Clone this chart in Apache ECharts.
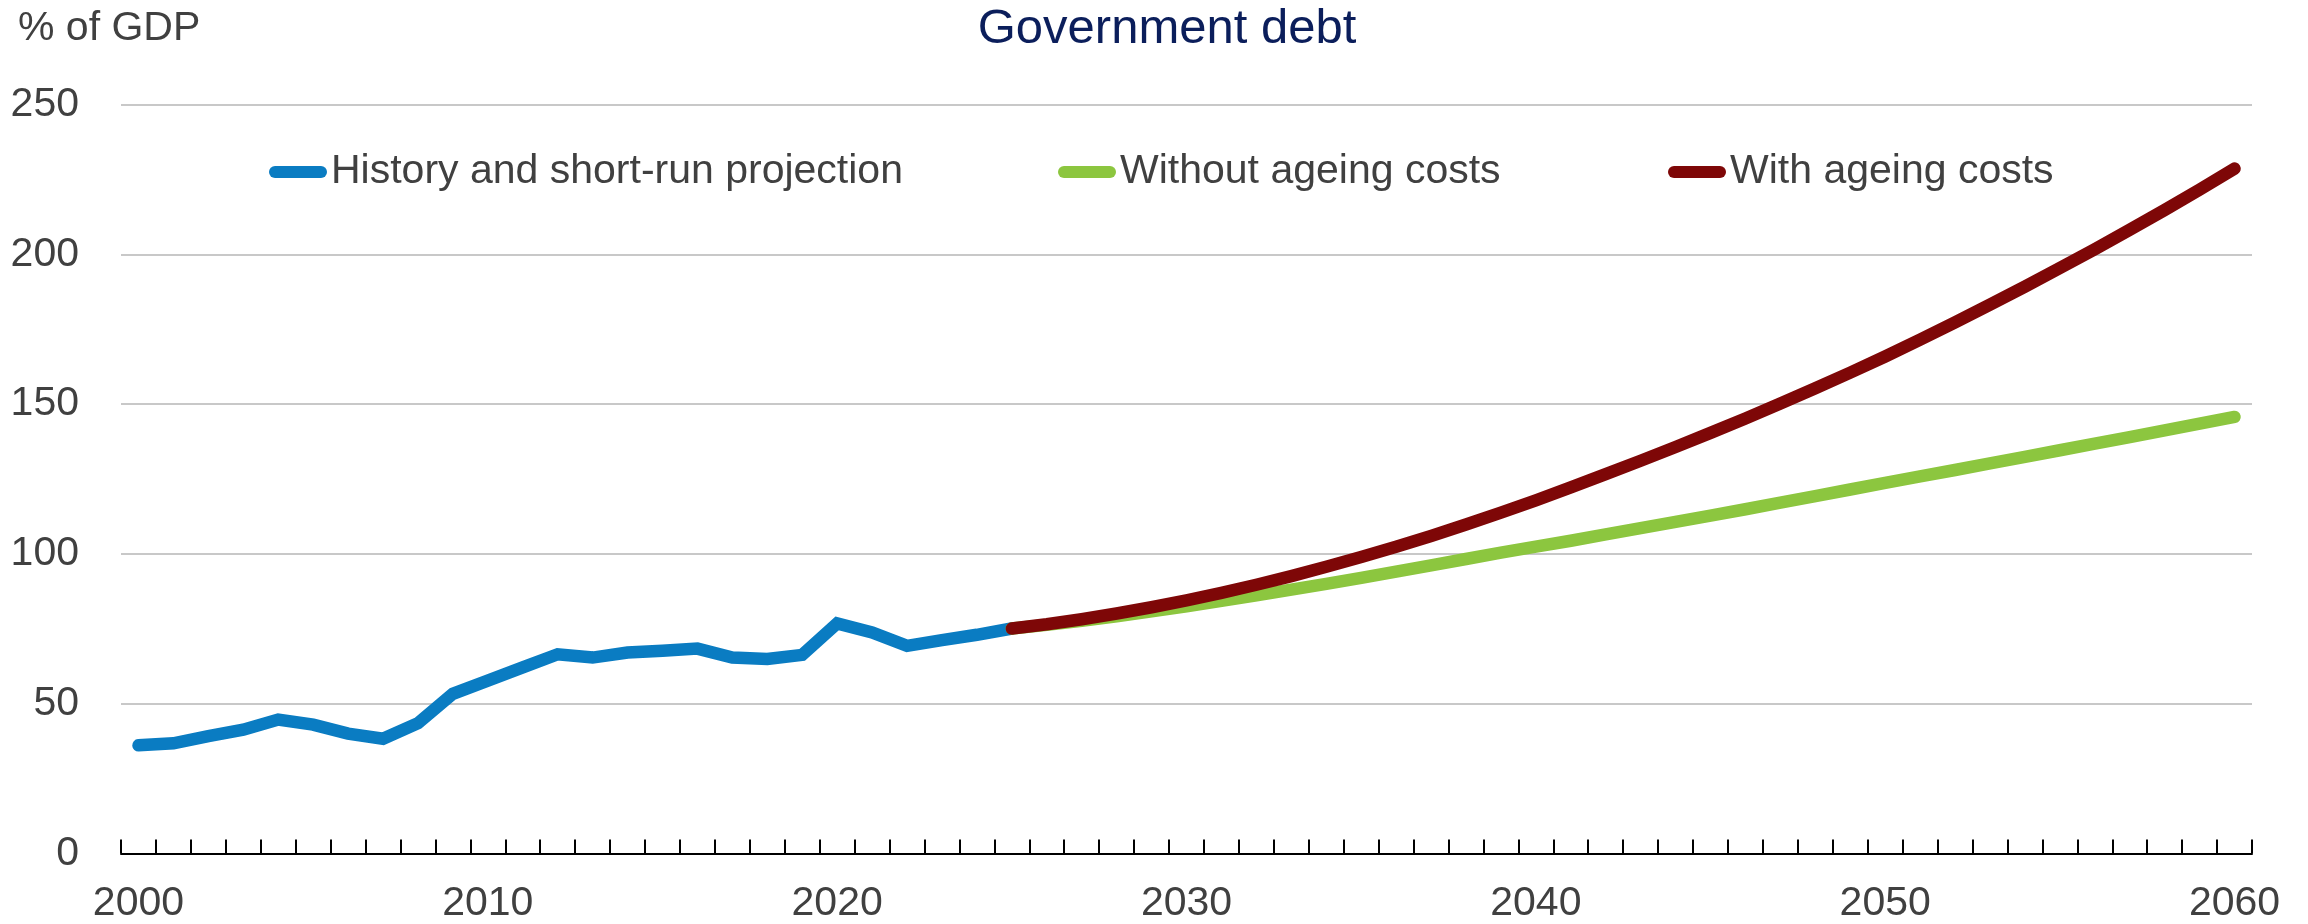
<!DOCTYPE html>
<html>
<head>
<meta charset="utf-8">
<script src="https://cdn.jsdelivr.net/npm/echarts@6/dist/echarts.min.js"></script>
<style>
  html, body { margin: 0; padding: 0; background: #fff; }
  #chart { width: 2308px; height: 924px; }
</style>
</head>
<body>
<div id="chart"></div>
<script>
// years on the x axis
const years = []
for (let y = 2000; y <= 2060; y++) years.push(String(y))

// history and short-run projection, 2000-2025
const historyValues = [
  36.1, 36.8, 39.2, 41.3, 44.7, 43.0, 40.0, 38.3, 43.5, 53.3,
  57.7, 62.1, 66.5, 65.4, 67.1, 67.7, 68.4, 65.4, 64.9, 66.3,
  76.8, 73.8, 69.3, 71.2, 73.0, 75.1
]

// long-run scenarios, 2025-2060
const withoutAgeing = [
  75.1, 76.3, 77.7, 79.2, 80.8, 82.5, 84.3, 86.2, 88.1, 90.0,
  92.0, 94.1, 96.2, 98.3, 100.4, 102.4, 104.4, 106.5, 108.6, 110.7,
  112.8, 114.9, 117.1, 119.3, 121.5, 123.7, 125.9, 128.0, 130.2, 132.4,
  134.6, 136.8, 139.0, 141.2, 143.5, 145.7
]
const withAgeing = [
  75.1, 76.5, 78.2, 80.1, 82.2, 84.5, 87.0, 89.7, 92.6, 95.7,
  99.0, 102.4, 106.0, 109.8, 113.8, 117.9, 122.2, 126.6, 131.1, 135.7,
  140.4, 145.2, 150.2, 155.3, 160.5, 165.9, 171.5, 177.3, 183.2, 189.2,
  195.4, 201.7, 208.2, 214.8, 221.6, 228.6
]

const yTicks = [0, 50, 100, 150, 200, 250]

// no narrow face available, so sizes are picked to keep the reference text widths
const FONT = "'Liberation Sans Narrow', 'Arial Narrow', 'Liberation Sans', Arial, sans-serif"
const TEXT = '#404040'
const BLUE = '#0A7CC2'
const GREEN = '#8CC63F'
const RED = '#7E0707'
const LABEL_SIZE = 41

// pad series to the full year range
const projStart = years.length - withAgeing.length
const blueData = historyValues.concat(new Array(years.length - historyValues.length).fill('-'))
const greenData = new Array(projStart).fill('-').concat(withoutAgeing)
const redData = new Array(projStart).fill('-').concat(withAgeing)

const capsule = 'path://M6,0 H52 A6,6 0 0 1 52,12 H6 A6,6 0 0 1 6,0 Z'

const legendBase = {
  top: 172 - LABEL_SIZE / 2,
  padding: 0,
  itemWidth: 58,
  itemHeight: 13,
  icon: capsule,
  textStyle: { fontFamily: FONT, fontSize: LABEL_SIZE, color: TEXT, padding: [0, 0, 0, -1] }
}

const lineSeries = (name, data, color) => ({
  name,
  type: 'line',
  data,
  symbol: 'none',
  smooth: false,
  connectNulls: false,
  lineStyle: { width: 12.5, color, cap: 'round', join: 'miter' },
  itemStyle: { color },
  emphasis: { disabled: true }
})

const chart = echarts.init(document.getElementById('chart'))
chart.setOption({
  animation: false,
  backgroundColor: '#fff',
  title: [
    {
      text: 'Government debt',
      left: 1167,
      textAlign: 'center',
      top: 5,
      padding: 0,
      textStyle: { fontFamily: FONT, fontSize: 49, fontWeight: 'normal', color: '#0B1E5B' }
    },
    {
      text: '% of GDP',
      left: 18,
      top: 28.5 - LABEL_SIZE / 2,
      padding: 0,
      textStyle: { fontFamily: FONT, fontSize: LABEL_SIZE, fontWeight: 'normal', color: TEXT }
    }
  ],
  legend: [
    Object.assign({}, legendBase, { left: 269, data: ['History and short-run projection'] }),
    Object.assign({}, legendBase, { left: 1058, data: ['Without ageing costs'] }),
    Object.assign({}, legendBase, { left: 1668, data: ['With ageing costs'] })
  ],
  grid: { left: 121, right: 56, top: 104.5, bottom: 67, containLabel: false },
  xAxis: {
    type: 'category',
    data: years,
    boundaryGap: true,
    axisLine: { lineStyle: { color: '#000', width: 2 } },
    axisTick: { show: true, inside: true, length: 14, interval: 0, lineStyle: { color: '#000', width: 2 } },
    axisLabel: { interval: 9, margin: 907 - 857 - LABEL_SIZE / 2, fontFamily: FONT, fontSize: LABEL_SIZE, color: TEXT }
  },
  yAxis: {
    type: 'value',
    min: yTicks[0],
    max: yTicks[yTicks.length - 1],
    interval: 50,
    axisLine: { show: false },
    axisTick: { show: false },
    axisLabel: { margin: 42, fontFamily: FONT, fontSize: LABEL_SIZE, color: TEXT },
    splitLine: { lineStyle: { color: '#C8C8C8', width: 2 } }
  },
  series: [
    lineSeries('History and short-run projection', blueData, BLUE),
    lineSeries('Without ageing costs', greenData, GREEN),
    lineSeries('With ageing costs', redData, RED)
  ]
})
</script>
</body>
</html>
